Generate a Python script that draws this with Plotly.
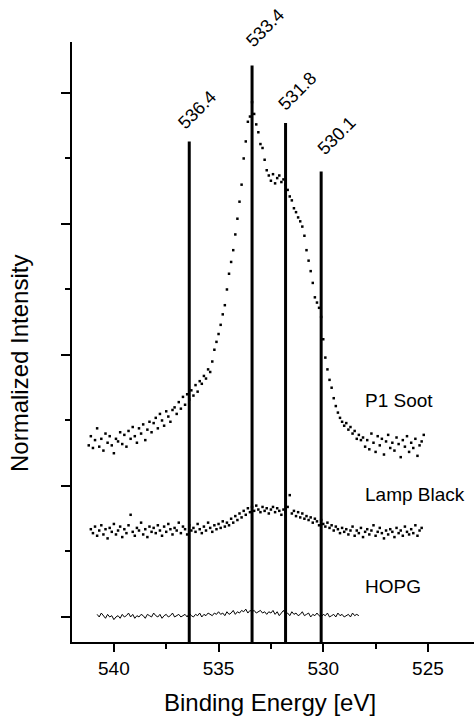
import numpy as np
import plotly.graph_objects as go

# ---------------- data ----------------
p1_start, p1_step = 541.2, 0.1
p1_soot = [1.31, 1.38, 1.29, 1.35, 1.44, 1.30, 1.36, 1.27, 1.40, 1.33, 1.38, 1.31, 1.25, 1.36, 1.34, 1.41, 1.32,
           1.39, 1.30, 1.42, 1.36, 1.45, 1.38, 1.33, 1.44, 1.40, 1.47, 1.35, 1.43, 1.49, 1.41,
           1.48, 1.52, 1.44, 1.55, 1.50, 1.46, 1.57, 1.53, 1.49, 1.58,
           1.60, 1.55, 1.64, 1.59, 1.68, 1.62, 1.70, 1.66, 1.73, 1.69,
           1.77, 1.72, 1.80, 1.78, 1.84, 1.82, 1.89, 1.87, 1.95, 2.04,
           2.10, 2.16, 2.23, 2.31, 2.38, 2.50, 2.62, 2.71, 2.80, 2.92,
           3.04, 3.17, 3.30, 3.50, 3.63, 3.78, 3.82, 3.93, 3.84, 3.76,
           3.70, 3.61, 3.58, 3.49, 3.41, 3.37, 3.33, 3.38, 3.31, 3.35,
           3.37, 3.32, 3.34, 3.30, 3.26, 3.21, 3.18, 3.12, 3.09, 3.05,
           3.02, 2.98, 2.91, 2.80, 2.72, 2.64, 2.55, 2.44, 2.40, 2.36,
           2.29, 2.12, 1.98, 1.89, 1.81, 1.75, 1.67, 1.61, 1.56, 1.52,
           1.49, 1.46, 1.48, 1.43, 1.45, 1.40, 1.42, 1.36, 1.39, 1.35,
           1.37, 1.30, 1.35, 1.28, 1.40, 1.33, 1.26, 1.38, 1.31, 1.36,
           1.24, 1.34, 1.39, 1.29, 1.33, 1.27, 1.37, 1.32, 1.22, 1.35,
           1.30, 1.38, 1.26, 1.33, 1.29, 1.36, 1.23, 1.31, 1.34, 1.39]

lb_start, lb_step = 541.1, 0.1
lamp_black = [0.67, 0.64, 0.69, 0.62, 0.66, 0.70, 0.63, 0.67, 0.60, 0.68, 0.65, 0.71, 0.63, 0.66, 0.69,
              0.61, 0.67, 0.64, 0.70, 0.78, 0.65, 0.62, 0.68, 0.66, 0.72, 0.63, 0.67, 0.61, 0.69, 0.65,
              0.68, 0.64, 0.70, 0.66, 0.62, 0.69, 0.65, 0.71, 0.67, 0.63, 0.68, 0.66, 0.72, 0.64, 0.69,
              0.67, 0.63, 0.70, 0.66, 0.68, 0.65, 0.71, 0.67, 0.64, 0.69, 0.66, 0.72, 0.68, 0.65, 0.70,
              0.67, 0.71, 0.68, 0.73, 0.69, 0.72, 0.70, 0.75, 0.72, 0.77, 0.74, 0.79, 0.76, 0.81, 0.78,
              0.83, 0.80, 0.84, 0.81, 0.85, 0.82, 0.80, 0.84, 0.81, 0.83, 0.79, 0.82, 0.84, 0.80, 0.83,
              0.81, 0.78, 0.82, 0.80, 0.84, 0.93, 0.79, 0.81, 0.77, 0.80, 0.76, 0.79, 0.75, 0.77, 0.74,
              0.76, 0.72, 0.75, 0.73, 0.70, 0.74, 0.71, 0.69, 0.72, 0.68, 0.70, 0.66, 0.69, 0.67, 0.64,
              0.68, 0.65, 0.67, 0.63, 0.66, 0.69, 0.62, 0.66, 0.64, 0.68, 0.61, 0.65, 0.67, 0.63, 0.66,
              0.70, 0.62, 0.65, 0.68, 0.64, 0.60, 0.66, 0.63, 0.67, 0.65, 0.61, 0.68, 0.64, 0.66, 0.62,
              0.69, 0.65, 0.63, 0.67, 0.64, 0.70, 0.62, 0.66, 0.68]

hopg_start, hopg_step = 540.8, 0.1
hopg = [0.02, 0.00, 0.03, 0.01, -0.01, 0.02, 0.00, 0.01, -0.02, 0.00, 0.01, -0.01, 0.02, 0.00, 0.01,
        0.03, 0.00, 0.02, -0.01, 0.01, 0.00, 0.02, 0.01, -0.01, 0.02, 0.01, 0.00, 0.03, 0.01, 0.00,
        0.02, -0.01, 0.01, 0.02, 0.00, 0.01, 0.03, 0.00, 0.01, 0.02, 0.00, 0.01, 0.02, 0.00, 0.03,
        0.01, 0.00, 0.02, 0.01, 0.03, 0.00, 0.02, 0.01, 0.03, 0.02, 0.01, 0.03, 0.02, 0.04, 0.02,
        0.03, 0.01, 0.04, 0.02, 0.03, 0.05, 0.02, 0.04, 0.03, 0.05, 0.04, 0.06, 0.03, 0.05, 0.04,
        0.05, 0.03, 0.04, 0.05, 0.03, 0.04, 0.02, 0.04, 0.03, 0.05, 0.02, 0.04, 0.01, 0.03, 0.05,
        0.02, 0.03, 0.01, 0.04, 0.02, 0.03, 0.01, 0.02, 0.04, 0.01, 0.02, 0.03, 0.00, 0.02, 0.01,
        0.03, 0.01, 0.00, 0.02, 0.01, 0.03, 0.00, 0.01, 0.02, 0.00, 0.03, 0.01, 0.02, 0.00, 0.01,
        0.02, 0.00, 0.03, 0.01, 0.02, 0.01]

peak_energies = [536.4, 533.4, 531.8, 530.1]
peak_labels = ["536.4", "533.4", "531.8", "530.1"]
peak_tops = [3.63, 4.21, 3.77, 3.40]

series_names = ["P1 Soot", "Lamp Black", "HOPG"]
series_label_y = [1.65, 0.935, 0.233]

x_ticks = [540, 535, 530, 525]
x_range = [542.0, 522.8]
y_range = [-0.191, 4.389]


def energies(start, step, n):
    return np.round(start - step * np.arange(n), 3)


FONT = "Liberation Sans, Arial, sans-serif"
MARK = dict(symbol="square", size=2.5, color="black", line=dict(width=0))

fig = go.Figure()
fig.add_trace(go.Scatter(x=energies(p1_start, p1_step, len(p1_soot)), y=p1_soot, mode="markers",
                         marker=MARK, name="P1 Soot"))
fig.add_trace(go.Scatter(x=energies(lb_start, lb_step, len(lamp_black)), y=lamp_black, mode="markers",
                         marker=MARK, name="Lamp Black"))
fig.add_trace(go.Scatter(x=energies(hopg_start, hopg_step, len(hopg)), y=hopg, mode="lines",
                         line=dict(color="black", width=1), name="HOPG"))

for e, top in zip(peak_energies, peak_tops):
    fig.add_shape(type="line", xref="x", yref="y", x0=e, x1=e, y0=y_range[0], y1=top,
                  line=dict(color="black", width=3), layer="above")

label_shift = [(8, 31), (13, 37), (12, 32), (15, 36)]
for e, top, lab, (dx, dy) in zip(peak_energies, peak_tops, peak_labels, label_shift):
    fig.add_annotation(x=e, y=top, text=lab, showarrow=False, textangle=-45,
                       xanchor="center", yanchor="middle",
                       xshift=dx, yshift=dy, font=dict(family=FONT, size=18, color="black"))

for name, ly in zip(series_names, series_label_y):
    fig.add_annotation(x=528.1, y=ly, text=name, showarrow=False, xanchor="left", yanchor="middle",
                       font=dict(family=FONT, size=19, color="black"))

fig.add_annotation(xref="paper", yref="paper", x=0.4925, y=-0.1, text="Binding Energy [eV]",
                   xanchor="center", yanchor="middle",
                   showarrow=False, font=dict(family=FONT, size=24, color="black"))
fig.add_annotation(xref="paper", yref="paper", x=-0.1294, y=0.465, text="Normalized Intensity",
                   xanchor="center", yanchor="middle",
                   textangle=-90, showarrow=False, font=dict(family=FONT, size=24, color="black"))

fig.update_layout(
    width=474, height=717, margin=dict(l=72, r=0, t=42, b=75),
    plot_bgcolor="white", paper_bgcolor="white", showlegend=False,
    xaxis=dict(range=x_range, tickvals=x_ticks, showgrid=False, zeroline=False,
               showline=True, linecolor="black", linewidth=2, ticks="outside", ticklen=8,
               tickwidth=2, tickcolor="black",
               minor=dict(dtick=2.5, tick0=0, ticks="outside", ticklen=5, tickwidth=2, tickcolor="black"),
               tickfont=dict(family=FONT, size=19, color="black")),
    yaxis=dict(range=y_range, dtick=1, tick0=0, showgrid=False, zeroline=False, showticklabels=False,
               showline=True, linecolor="black", linewidth=2, ticks="outside", ticklen=9,
               tickwidth=2, tickcolor="black",
               minor=dict(dtick=0.5, tick0=0, ticks="outside", ticklen=5, tickwidth=2, tickcolor="black")),
)

fig.write_html("out.html")
